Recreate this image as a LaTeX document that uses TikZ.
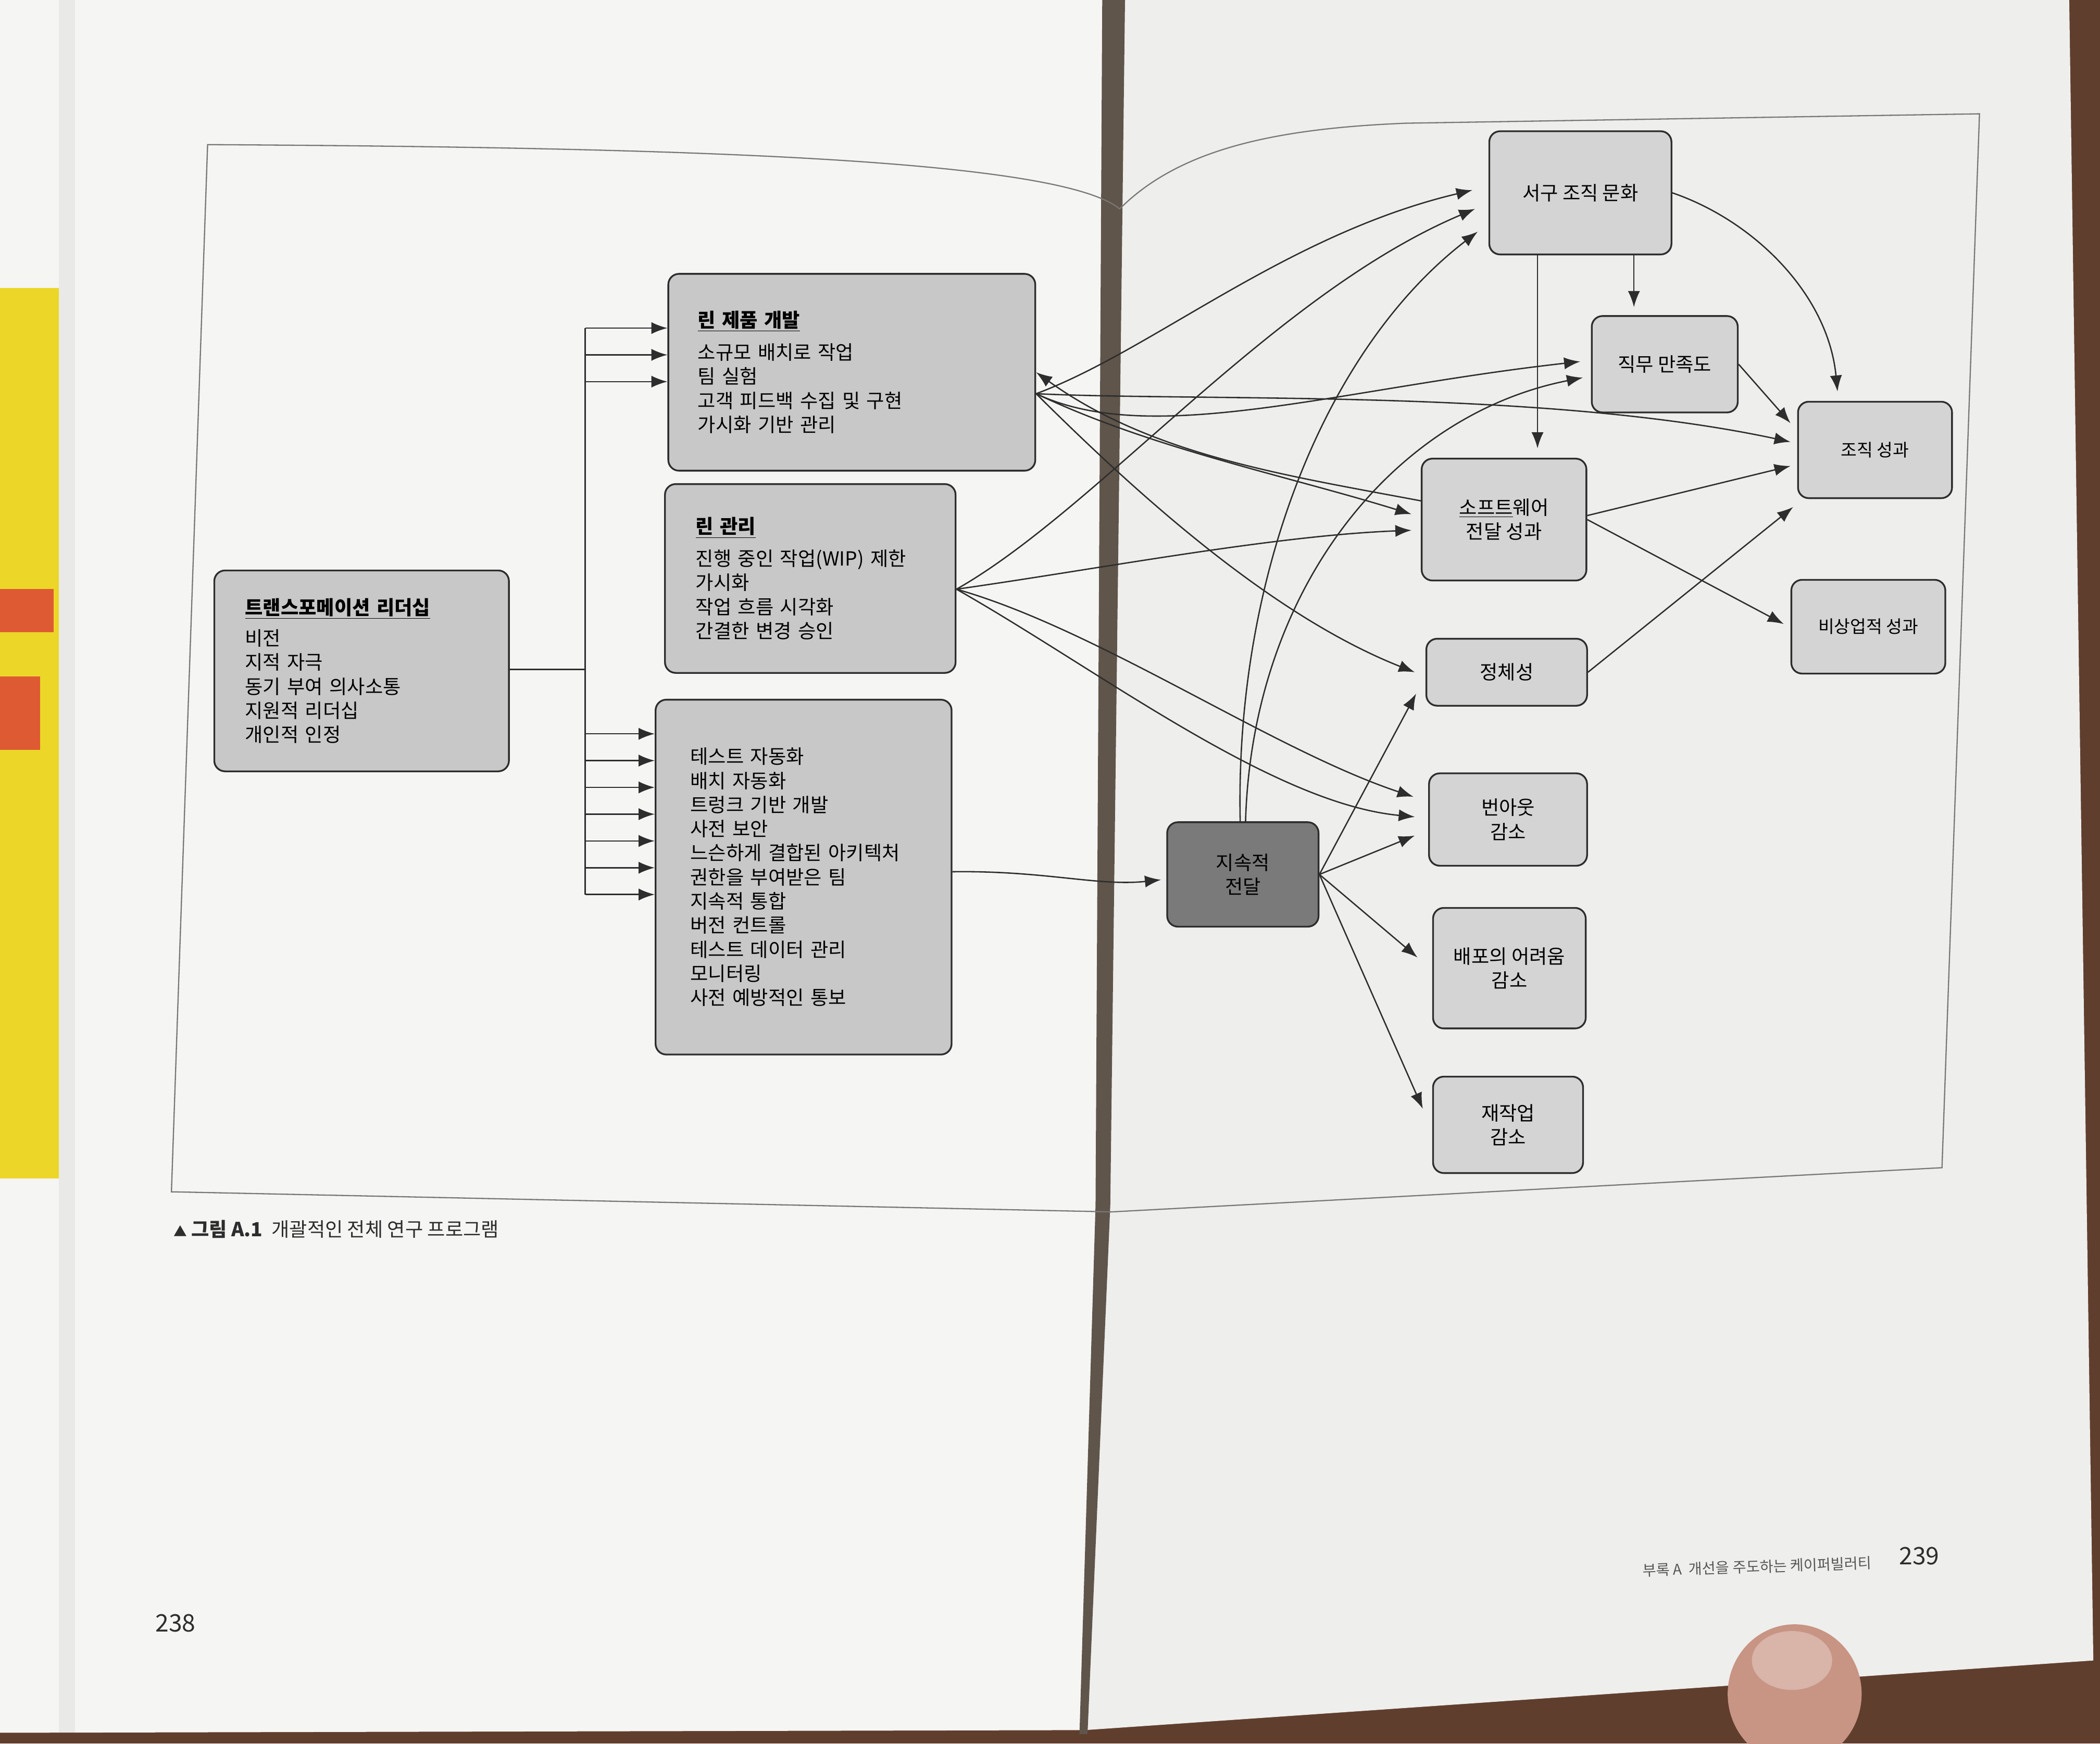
\documentclass[tikz,border=0pt]{standalone}
\usepackage{fontspec}
\setmainfont{Noto Sans CJK KR}
\usetikzlibrary{arrows.meta}
\definecolor{wood}{RGB}{96,62,46}
\definecolor{lpage}{RGB}{245,245,243}
\definecolor{rpage}{RGB}{238,238,236}
\definecolor{spine}{RGB}{95,85,75}
\definecolor{boxfill}{RGB}{200,200,200}
\definecolor{boxfillR}{RGB}{212,212,212}
\definecolor{cdfill}{RGB}{122,122,122}
\definecolor{ink}{RGB}{45,45,45}
\definecolor{frame}{RGB}{120,120,120}
\definecolor{tab}{RGB}{236,214,40}
\definecolor{tabred}{RGB}{222,90,50}
\definecolor{skin}{RGB}{200,148,132}
\begin{document}
\begin{tikzpicture}[x=1pt,y=-1pt,
  box/.style={draw=ink, line width=1.3pt, rounded corners=8pt, fill=boxfill},
  lbox/.style={box, align=left, font=\fontsize{14.5}{18}\selectfont},
  rbox/.style={box, fill=boxfillR, align=center, font=\fontsize{14.5}{18}\selectfont, inner sep=2pt},
  arr/.style={draw=ink, line width=1pt, -{Latex[length=12pt,width=9pt]}},
  ln/.style={draw=ink, line width=1pt}]
\useasboundingbox (0,0) rectangle (1568,1302);
% photo background
\fill[wood] (0,0) rectangle (1568,1302);
\fill[lpage] (0,0) -- (838,0) -- (810,1292) -- (0,1294) -- cycle;
\fill[rpage] (838,0) -- (1545,0) -- (1563,1240) -- (810,1292) -- cycle;
\fill[tab] (0,215) rectangle (44,880);
\fill[tabred] (0,440) rectangle (40,472);
\fill[tabred] (0,505) rectangle (30,560);
\fill[lpage!90!gray] (44,0) rectangle (56,1294);
\fill[spine] (823,0) -- (840,0) -- (829,900) -- (812,1295) -- (806,1295) -- (818,900) -- cycle;
\fill[skin] (1340,1265) ellipse [x radius=50pt, y radius=52pt];
\fill[skin!70!white] (1338,1240) ellipse [x radius=30pt, y radius=22pt];
% frame
\draw[frame, line width=0.9pt] (155,108) .. controls (500,110) and (790,118) .. (836,156)
  .. controls (880,112) and (950,96) .. (1050,92) -- (1478,85) -- (1450,872)
  -- (830,905) -- (128,890) -- cycle;
% nodes
\node[lbox, text width=174pt, inner xsep=23pt, minimum height=150pt] (tl) at (270,501)
  {\textbf{\underline{트랜스포메이션 리더십}}\\[5pt]비전\\지적 자극\\동기 부여 의사소통\\지원적 리더십\\개인적 인정};
\node[lbox, text width=230pt, inner xsep=22pt, minimum height=147pt] (lpd) at (636,278)
  {\textbf{\underline{린 제품 개발}}\\[6pt]소규모 배치로 작업\\팀 실험\\고객 피드백 수집 및 구현\\가시화 기반 관리};
\node[lbox, text width=171pt, inner xsep=23pt, minimum height=141pt] (lm) at (605,432)
  {\textbf{\underline{린 관리}}\\[6pt]진행 중인 작업(WIP) 제한\\가시화\\작업 흐름 시각화\\간결한 변경 승인};
\node[lbox, text width=169pt, inner xsep=26pt, minimum height=265pt] (tc) at (600,655)
  {테스트 자동화\\배치 자동화\\트렁크 기반 개발\\사전 보안\\느슨하게 결합된 아키텍처\\권한을 부여받은 팀\\지속적 통합\\버전 컨트롤\\테스트 데이터 관리\\모니터링\\사전 예방적인 통보};
\node[rbox, minimum width=136pt, minimum height=92pt] (ws) at (1180,144) {서구 조직 문화};
\node[rbox, minimum width=109pt, minimum height=72pt] (js) at (1243,272) {직무 만족도};
\node[rbox, font=\fontsize{13}{17}\selectfont, minimum width=115pt, minimum height=72pt] (op) at (1400,336) {조직 성과};
\node[rbox, minimum width=123pt, minimum height=91pt] (sdp) at (1123,388) {\underline{소프트}웨어\\전달 성과};
\node[rbox, font=\fontsize{13}{17}\selectfont, minimum width=115pt, minimum height=70pt] (ncp) at (1395,468) {비상업적 성과};
\node[rbox, minimum width=120pt, minimum height=50pt] (id) at (1125,502) {정체성};
\node[rbox, minimum width=118pt, minimum height=69pt] (bo) at (1126,612) {번아웃\\감소};
\node[rbox, fill=cdfill, minimum width=113pt, minimum height=78pt] (cd) at (928,653) {지속적\\전달};
\node[rbox, minimum width=114pt, minimum height=90pt] (dp) at (1127,723) {배포의 어려움\\감소};
\node[rbox, minimum width=112pt, minimum height=72pt] (rw) at (1126,840) {재작업\\감소};
% leadership bus
\coordinate (busmid) at (437,500);
\coordinate (bustop) at (437,245);
\coordinate (busbot) at (437,668);
\draw[ln] (tl.east |- busmid) -- (busmid);
\draw[ln] (bustop) -- (busbot);
\foreach \y/\n in {245/a,265/b,285/c} {
  \coordinate (bl\n) at (437,\y);
  \draw[arr] (bl\n) -- (bl\n -| lpd.west);
}
\foreach \y/\n in {548/a,568/b,588/c,608/d,628/e,648/f,668/g} {
  \coordinate (bt\n) at (437,\y);
  \draw[arr] (bt\n) -- (bt\n -| tc.west);
}
\draw[arr] ([yshift=4pt]tc.east) .. controls (780,650) and (820,662) .. ([xshift=-4pt,yshift=-4pt]cd.west);
% origins
\coordinate (lpdo) at ([yshift=-16pt]lpd.east);
\coordinate (lmo) at ([yshift=-8pt]lm.east);
% lean product development edges
\draw[arr] (lpdo) .. controls (860,262) and (960,175) .. ([xshift=-12pt,yshift=2pt]ws.west);
\draw[arr] (lpdo) .. controls (900,300) and (1150,290) .. ([xshift=-5pt,yshift=6pt]op.west);
\draw[arr] (lpdo) .. controls (860,335) and (960,355) .. ([xshift=-7pt,yshift=4pt]sdp.west);
\draw[arr] (lpdo) .. controls (860,335) and (1000,290) .. ([xshift=-8pt,yshift=2pt]js.west);
\draw[arr] (lpdo) .. controls (850,370) and (950,460) .. ([xshift=-8pt]id.west);
% lean management edges
\draw[arr] (lmo) .. controls (820,380) and (950,220) .. ([xshift=-10pt,yshift=-12pt]ws.west);
\draw[arr] (lmo) .. controls (820,425) and (950,400) .. ([xshift=-7pt,yshift=-8pt]sdp.west);
\draw[arr] (lmo) .. controls (820,470) and (950,560) .. ([xshift=-11pt,yshift=17pt]bo.west);
\draw[arr] (lmo) .. controls (820,500) and (950,600) .. ([xshift=-10pt,yshift=2pt]bo.west);
% software delivery performance back to lean product development
\draw[arr] ([yshift=14pt]sdp.west) .. controls (960,355) and (860,340) .. (lpd.east);
% continuous delivery edges
\draw[arr] ([xshift=-2pt]cd.north) .. controls (922,430) and (990,260) .. ([xshift=-8pt,yshift=-29pt]ws.west);
\draw[arr] ([xshift=2pt]cd.north) .. controls (935,440) and (1040,310) .. ([xshift=-6pt,yshift=-10pt]js.west);
\draw[arr] (cd.east) -- ([xshift=-7pt,yshift=-16pt]id.west);
\draw[arr] (cd.east) -- ([xshift=-10pt,yshift=-12pt]bo.west);
\draw[arr] (cd.east) -- ([xshift=-11pt,yshift=8pt]dp.west);
\draw[arr] (cd.east) -- ([xshift=-7pt,yshift=12pt]rw.west);
% outcome edges
\draw[arr] ([xshift=40pt]ws.south) -- ([xshift=-23pt,yshift=6pt]js.north);
\draw[arr] ([xshift=-32pt]ws.south) -- ([xshift=25pt,yshift=7pt]sdp.north);
\draw[arr] (ws.east) .. controls (1310,165) and (1365,220) .. ([xshift=-28pt,yshift=7pt]op.north);
\draw[arr] (js.east) -- ([xshift=-5pt,yshift=20pt]op.west);
\draw[arr] ([yshift=3pt]sdp.east) -- ([xshift=-5pt,yshift=-12pt]op.west);
\draw[arr] (sdp.east) -- ([xshift=-5pt,yshift=2pt]ncp.west);
\draw[arr] (id.east) -- ([xshift=-3pt,yshift=-6pt]op.south west);
% caption and page furniture
\node[anchor=west, font=\fontsize{14.5}{18}\selectfont, text=ink] (cap) at (126,918)
  {{\fontsize{10}{12}\selectfont ▲} \textbf{그림 A.1}\ \ 개괄적인 전체 연구 프로그램};
\node[font=\fontsize{18}{20}\selectfont, text=ink] (p238) at (131,1212) {238};
\node[font=\fontsize{18}{20}\selectfont, text=ink] (p239) at (1433,1162) {239};
\node[font=\fontsize{11}{13}\selectfont, text=ink!80, rotate=2] (hdr) at (1312,1170) {부록 A\ \ 개선을 주도하는 케이퍼빌러티};
\end{tikzpicture}
\end{document}
